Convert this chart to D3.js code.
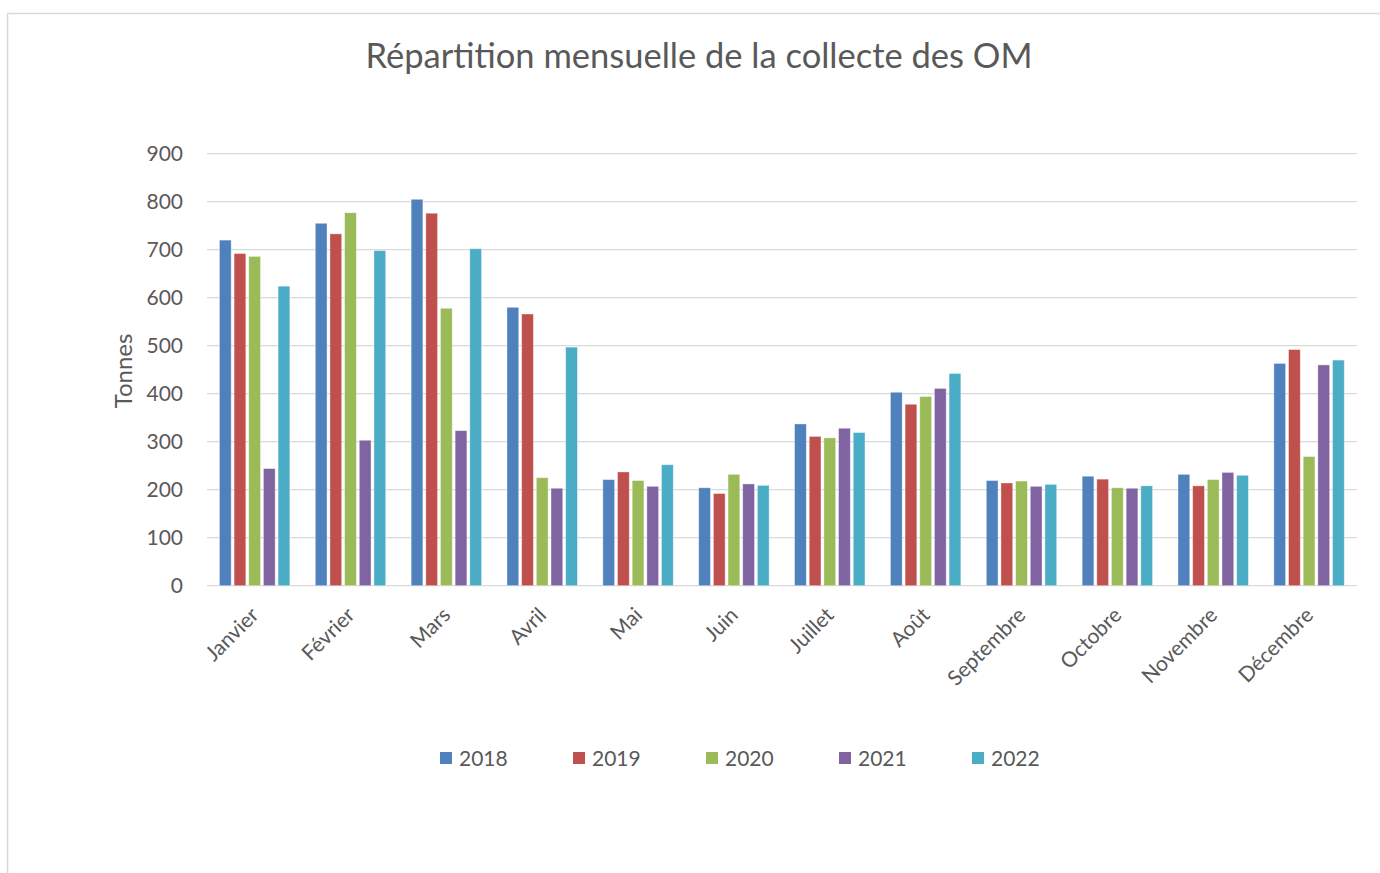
<!DOCTYPE html>
<html>
<head>
<meta charset="utf-8">
<style>
    body { margin: 0; background: #fff; }
    svg text { font-family: Lato, 'Open Sans', sans-serif; fill: #595959; }
</style>
</head>
<body>
<svg id="chart" width="1380" height="873"></svg>
<script src="https://cdnjs.cloudflare.com/ajax/libs/d3/7.8.5/d3.min.js"></script>
<script>
    // months on the x axis
    const months = ["Janvier", "Février", "Mars", "Avril", "Mai", "Juin", "Juillet", "Août",
        "Septembre", "Octobre", "Novembre", "Décembre"];
    const years = ["2018", "2019", "2020", "2021", "2022"];
    const colors = ["#4F81BD", "#C0504D", "#9BBB59", "#8064A2", "#4BACC6"];

    // tonnes per month, one array per year
    const v2018 = [720, 755, 805, 580, 221, 204, 337, 403, 219, 228, 232, 463];
    const v2019 = [692, 733, 776, 566, 237, 192, 311, 378, 214, 222, 208, 492];
    const v2020 = [686, 777, 578, 225, 219, 232, 308, 394, 218, 204, 221, 269];
    const v2021 = [244, 303, 323, 203, 207, 212, 328, 411, 207, 203, 236, 460];
    const v2022 = [624, 698, 702, 497, 252, 209, 319, 442, 211, 208, 230, 470];
    const yTicks = [0, 100, 200, 300, 400, 500, 600, 700, 800, 900];

    const series = [v2018, v2019, v2020, v2021, v2022];

    const svg = d3.select("#chart");

    // chart frame (only top and left edges are visible in the shot)
    svg.append("rect")
        .attr("x", 7.5).attr("y", 13.5)
        .attr("width", 1400).attr("height", 900)
        .attr("fill", "none")
        .attr("stroke", "#d9d9d9")
        .attr("stroke-width", 1.5);

    svg.append("text")
        .attr("x", 699).attr("y", 68)
        .attr("text-anchor", "middle")
        .style("font-size", "34.5px")
        .text("Répartition mensuelle de la collecte des OM");

    const x0 = d3.scaleBand()
        .domain(months)
        .range([206.7, 1357])
        .paddingInner(0.235)
        .paddingOuter(0.1175);

    const x1 = d3.scaleBand()
        .domain(years)
        .range([0, x0.bandwidth()])
        .paddingInner(0.2)
        .paddingOuter(0.1);

    const y = d3.scaleLinear()
        .domain([0, 900])
        .range([585.7, 153.7]);

    // gridlines
    svg.append("g")
        .selectAll("line")
        .data(yTicks)
        .join("line")
        .attr("x1", 206.7).attr("x2", 1357)
        .attr("y1", d => y(d)).attr("y2", d => y(d))
        .attr("stroke", "#d9d9d9")
        .attr("stroke-width", 1.3);

    // y tick labels
    svg.append("g")
        .selectAll("text")
        .data(yTicks)
        .join("text")
        .attr("x", 183)
        .attr("y", d => y(d))
        .attr("dy", "0.36em")
        .attr("text-anchor", "end")
        .style("font-size", "21px")
        .text(d => d);

    svg.append("text")
        .attr("transform", "translate(132,371) rotate(-90)")
        .attr("text-anchor", "middle")
        .style("font-size", "24px")
        .text("Tonnes");

    // bars
    const groups = svg.append("g")
        .selectAll("g")
        .data(months)
        .join("g")
        .attr("transform", d => `translate(${x0(d)},0)`);

    groups.selectAll("rect")
        .data((m, i) => series.map((s, k) => ({ year: years[k], value: s[i], k: k })))
        .join("rect")
        .attr("x", d => x1(d.year))
        .attr("width", x1.bandwidth())
        .attr("y", d => y(d.value))
        .attr("height", d => y(0) - y(d.value))
        .attr("fill", d => colors[d.k])
        .attr("stroke", "#fff")
        .attr("stroke-opacity", 0.45)
        .attr("stroke-width", 0.8);

    // month labels, rotated
    svg.append("g")
        .selectAll("text")
        .data(months)
        .join("text")
        .attr("transform", d => `translate(${x0(d) + x0.bandwidth() / 2 - 5},606) rotate(-45)`)
        .attr("text-anchor", "end")
        .attr("dy", "0.7em")
        .style("font-size", "21px")
        .text(d => d);

    // legend
    const legend = svg.append("g")
        .selectAll("g")
        .data(years)
        .join("g")
        .attr("transform", (d, i) => `translate(${440 + i * 133},752)`);

    legend.append("rect")
        .attr("width", 12).attr("height", 12)
        .attr("fill", (d, i) => colors[i]);

    legend.append("text")
        .attr("x", 19).attr("y", 6)
        .attr("dy", "0.36em")
        .style("font-size", "21px")
        .text(d => d);
</script>
</body>
</html>
